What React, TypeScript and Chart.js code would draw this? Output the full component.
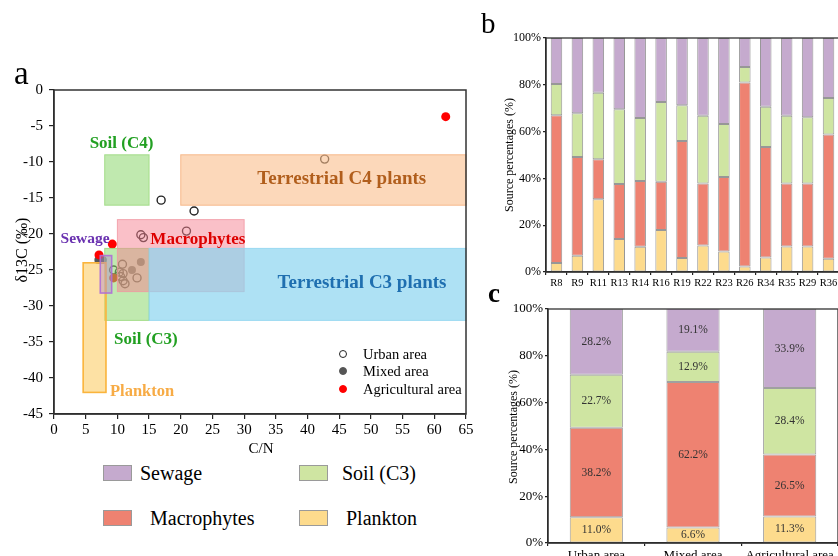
import React, { useEffect, useRef } from "react";
import { Chart, registerables } from "chart.js";
Chart.register(...registerables);

const FONT = '"Liberation Serif", "Times New Roman", Times, serif';
Chart.defaults.font.family = FONT;
Chart.defaults.color = "#000";

// ---------- Panel a data ----------
const urbanX = [16.9, 22.1, 42.7, 20.9, 13.7, 14.1, 9.4, 10.3, 10.8, 10.9, 10.5, 10.9, 11.2, 13.1];
const urbanY = [-15.3, -16.8, -9.6, -19.6, -20.1, -20.5, -25.0, -25.3, -24.2, -25.5, -25.9, -26.5, -26.9, -26.1];
const mixedX = [12.3, 13.7, 7.0, 7.7];
const mixedY = [-25.0, -23.9, -23.6, -23.6];
const agriX = [61.8, 9.2, 7.1, 9.4];
const agriY = [-3.7, -21.4, -22.9, -26.1];

const regionNames = ["Terrestrial C4 plants", "Soil (C4)", "Soil (C3)", "Macrophytes", "Terrestrial C3 plants", "Plankton", "Sewage"];
const regionX0 = [20, 8, 8, 10, 15, 4.6, 7.3];
const regionX1 = [65, 15, 15, 30, 65, 8.2, 9.1];
const regionY0 = [-9, -9, -22, -18, -22, -24, -23];
const regionY1 = [-16, -16, -32, -28, -32, -42, -28.2];
const labelX = [45.4, 10.65, 14.5, 22.7, 48.6, 13.9, 4.9];
const labelY = [-12.4, -7.4, -34.6, -20.8, -26.8, -41.9, -20.7];

const regionFill = [
  "rgba(250,190,140,0.6)",
  "rgba(140,215,110,0.55)",
  "rgba(140,215,110,0.55)",
  "rgba(245,130,145,0.5)",
  "rgba(140,212,240,0.7)",
  "rgba(252,200,90,0.55)",
  "rgba(180,140,205,0.45)",
];
const regionStroke = [
  "rgba(245,180,130,0.9)",
  "rgba(150,215,120,0.8)",
  "rgba(150,215,120,0.8)",
  "rgba(240,150,160,0.8)",
  "rgba(140,212,240,0.8)",
  "rgba(250,180,60,1)",
  "rgba(175,110,215,0.9)",
];
const regionStrokeW = [1, 1, 1, 1, 1, 1.6, 1.6];
const labelColor = ["#b15e1c", "#22a022", "#22a022", "#dd0000", "#1f6fb0", "#f7ab45", "#6a32b0"];
const labelSize = [19, 17, 17, 17, 19, 16.5, 15.5];

// ---------- Panel b data ----------
const siteLabels = ["R8", "R9", "R11", "R13", "R14", "R16", "R19", "R22", "R23", "R26", "R34", "R35", "R29", "R36"];
const sitePlankton = [3.8, 6.9, 31.1, 14.1, 10.8, 18.0, 6.0, 11.3, 8.8, 2.3, 6.2, 10.9, 10.9, 5.7];
const siteMacro = [63.2, 42.2, 17.1, 23.5, 28.1, 20.6, 50.0, 26.5, 31.8, 78.7, 47.2, 26.9, 26.9, 53.1];
const siteSoil = [13.3, 18.7, 28.4, 32.0, 26.9, 34.1, 15.3, 29.0, 22.7, 6.6, 17.2, 29.0, 28.3, 15.6];
const siteSewage = [19.7, 32.2, 23.4, 30.4, 34.2, 27.3, 28.7, 33.2, 36.7, 12.4, 29.4, 33.2, 33.9, 25.6];

// ---------- Panel c data ----------
const areaLabels = ["Urban area", "Mixed area", "Agricultural area"];
const areaPlankton = [11.0, 6.6, 11.3];
const areaMacro = [38.2, 62.2, 26.5];
const areaSoil = [22.7, 12.9, 28.4];
const areaSewage = [28.2, 19.1, 33.9];

const sourceNames = ["Plankton", "Macrophytes", "Soil (C3)", "Sewage"];
const sourceColors = ["#fddb8d", "#ee8271", "#cfe5a2", "#c5aace"];

const framePlugin = (lw: number, color: string) => ({
  id: "frame",
  afterDraw(chart: any) {
    const { ctx, chartArea } = chart;
    const { left, top, right, bottom } = chartArea;
    ctx.save();
    ctx.strokeStyle = color;
    ctx.lineWidth = lw;
    ctx.strokeRect(left, top, right - left, bottom - top);
    ctx.restore();
  },
});

const regionPlugin = {
  id: "regions",
  afterDatasetsDraw(chart: any) {
    const { ctx, scales } = chart;
    const xs = scales.x;
    const ys = scales.y;
    ctx.save();
    for (let i = 0; i < regionNames.length; i++) {
      const x0 = xs.getPixelForValue(regionX0[i]);
      const x1 = xs.getPixelForValue(regionX1[i]);
      const y0 = ys.getPixelForValue(regionY0[i]);
      const y1 = ys.getPixelForValue(regionY1[i]);
      ctx.fillStyle = regionFill[i];
      ctx.fillRect(x0, y0, x1 - x0, y1 - y0);
      ctx.strokeStyle = regionStroke[i];
      ctx.lineWidth = regionStrokeW[i];
      ctx.strokeRect(x0, y0, x1 - x0, y1 - y0);
    }
    ctx.textAlign = "center";
    ctx.textBaseline = "middle";
    for (let i = 0; i < regionNames.length; i++) {
      ctx.font = `bold ${labelSize[i]}px ${FONT}`;
      ctx.fillStyle = labelColor[i];
      ctx.fillText(regionNames[i], xs.getPixelForValue(labelX[i]), ys.getPixelForValue(labelY[i]));
    }
    ctx.restore();
  },
};

const valueLabelPlugin = {
  id: "valueLabels",
  afterDatasetsDraw(chart: any) {
    const { ctx } = chart;
    ctx.save();
    ctx.font = `11.5px ${FONT}`;
    ctx.fillStyle = "#333";
    ctx.textAlign = "center";
    ctx.textBaseline = "middle";
    chart.data.datasets.forEach((ds: any, i: number) => {
      const meta = chart.getDatasetMeta(i);
      meta.data.forEach((bar: any, j: number) => {
        const p = bar.getProps(["x", "y", "base"], true);
        const top = Math.max(p.y, chart.chartArea.top);
        ctx.fillText(ds.data[j].toFixed(1) + "%", p.x, (top + p.base) / 2);
      });
    });
    ctx.restore();
  },
};

function pts(xs: number[], ys: number[]) {
  return xs.map((x, i) => ({ x, y: ys[i] }));
}

function axisCommon(size: number, tickLen: number) {
  return {
    ticks: { font: { size, family: FONT }, color: "#000", padding: 3, maxRotation: 0, autoSkip: false },
    grid: { drawOnChartArea: false, drawTicks: true, tickLength: tickLen, color: "#222", lineWidth: 1.2 },
    border: { display: true, color: "#222", width: 1.4 },
  };
}

export default function App() {
  const aRef = useRef<HTMLCanvasElement>(null);
  const bRef = useRef<HTMLCanvasElement>(null);
  const cRef = useRef<HTMLCanvasElement>(null);

  useEffect(() => {
    const charts: Chart[] = [];
    // Panel a
    const ac = aRef.current!;
    const axA = axisCommon(15, 5);
    charts.push(
      new Chart(ac, {
        type: "scatter",
        data: {
          datasets: [
            { label: "Agricultural area", data: pts(agriX, agriY), pointRadius: 4.5, backgroundColor: "#ff0000", borderColor: "#ff0000", borderWidth: 0, order: 1 },
            { label: "Urban area", data: pts(urbanX, urbanY), pointRadius: 4, backgroundColor: "rgba(0,0,0,0)", borderColor: "#222", borderWidth: 1.4, order: 2 },
            { label: "Mixed area", data: pts(mixedX, mixedY), pointRadius: 4, backgroundColor: "#555", borderColor: "#555", borderWidth: 0, order: 3 },
          ],
        },
        options: {
          responsive: false,
          animation: false,
          events: [],
          layout: { padding: { top: 30, right: 14, left: 0, bottom: 0 } },
          plugins: { legend: { display: false }, tooltip: { enabled: false } },
          scales: {
            x: {
              type: "linear", min: 0, max: 65,
              ...axA,
              ticks: { ...axA.ticks, stepSize: 5, padding: 2 },
              afterFit: (s: any) => { s.height = 46; },
            },
            y: {
              type: "linear", min: -45, max: 0,
              ...axA,
              ticks: { ...axA.ticks, stepSize: 5, padding: 6 },
              afterFit: (s: any) => { s.width = 54; },
            },
          },
        } as any,
        plugins: [regionPlugin, framePlugin(1.5, "#333")],
      })
    );

    // Panel b
    const axB = axisCommon(12, 3);
    charts.push(
      new Chart(bRef.current!, {
        type: "bar",
        data: {
          labels: siteLabels,
          datasets: [sitePlankton, siteMacro, siteSoil, siteSewage].map((d, i) => ({
            label: sourceNames[i],
            data: d,
            backgroundColor: sourceColors[i],
            borderColor: "rgba(140,140,140,0.9)",
            borderWidth: 1,
            borderSkipped: false,
            barPercentage: 0.55,
            categoryPercentage: 1,
          })),
        },
        options: {
          responsive: false,
          animation: false,
          events: [],
          layout: { padding: { top: 38, right: 21, left: 0, bottom: 0 } },
          plugins: { legend: { display: false }, tooltip: { enabled: false } },
          scales: {
            x: {
              stacked: true,
              ...axB,
              ticks: { ...axB.ticks, font: { size: 10.5, family: FONT }, padding: 2 },
              afterFit: (s: any) => { s.height = 28; },
            },
            y: {
              stacked: true, min: 0, max: 100,
              ...axB,
              ticks: { ...axB.ticks, stepSize: 20, padding: 2, callback: (v: any) => v + "%" },
              afterFit: (s: any) => { s.width = 66; },
            },
          },
        } as any,
        plugins: [framePlugin(1.3, "#333")],
      })
    );

    // Panel c
    const axC = axisCommon(13, 3);
    charts.push(
      new Chart(cRef.current!, {
        type: "bar",
        data: {
          labels: areaLabels,
          datasets: [areaPlankton, areaMacro, areaSoil, areaSewage].map((d, i) => ({
            label: sourceNames[i],
            data: d,
            backgroundColor: sourceColors[i],
            borderColor: "rgba(150,150,150,0.9)",
            borderWidth: 1,
            borderSkipped: false,
            barPercentage: 0.55,
            categoryPercentage: 1,
          })),
        },
        options: {
          responsive: false,
          animation: false,
          events: [],
          layout: { padding: { top: 29, right: 22, left: 0, bottom: 0 } },
          plugins: { legend: { display: false }, tooltip: { enabled: false } },
          scales: {
            x: {
              stacked: true,
              ...axC,
              ticks: { ...axC.ticks, font: { size: 13, family: FONT }, padding: 2 },
              afterFit: (s: any) => { s.height = 27; },
            },
            y: {
              stacked: true, min: 0, max: 100,
              ...axC,
              ticks: { ...axC.ticks, stepSize: 20, padding: 2, callback: (v: any) => v + "%" },
              afterFit: (s: any) => { s.width = 68; },
            },
          },
        } as any,
        plugins: [valueLabelPlugin, framePlugin(1.3, "#333")],
      })
    );

    return () => charts.forEach((c) => c.destroy());
  }, []);

  const abs = (left: number, top: number, extra: React.CSSProperties = {}): React.CSSProperties => ({
    position: "absolute",
    left,
    top,
    whiteSpace: "nowrap",
    ...extra,
  });
  const rot = (cx: number, cy: number, size: number): React.CSSProperties => ({
    position: "absolute",
    left: cx,
    top: cy,
    fontSize: size,
    lineHeight: 1,
    whiteSpace: "nowrap",
    transform: "translate(-50%,-50%) rotate(-90deg)",
  });
  const swatch = (left: number, top: number, color: string) => (
    <div style={abs(left, top, { width: 27, height: 14, background: color, border: "1px solid #9a9a9a" })} />
  );
  const legendText = (left: number, cy: number, text: string) => (
    <div style={abs(left, cy - 11, { fontSize: 20, lineHeight: "22px" })}>{text}</div>
  );
  const marker = (cx: number, cy: number, fill: string, stroke: string) => (
    <div
      style={abs(cx - 4, cy - 4, {
        width: 8,
        height: 8,
        boxSizing: "border-box",
        borderRadius: "50%",
        background: fill,
        border: `1.4px solid ${stroke}`,
      })}
    />
  );
  const smallText = (left: number, cy: number, text: string) => (
    <div style={abs(left, cy - 8, { fontSize: 14.5, lineHeight: "16px" })}>{text}</div>
  );

  return (
    <div
      style={{
        position: "fixed",
        left: 0,
        top: 0,
        width: 838,
        height: 556,
        overflow: "hidden",
        background: "#fff",
        fontFamily: FONT,
        color: "#000",
      }}
    >
      <canvas ref={aRef} width={480} height={400} style={abs(0, 60)} />
      <canvas ref={bRef} width={380} height={300} style={abs(480, 0)} />
      <canvas ref={cRef} width={380} height={290} style={abs(480, 280)} />

      {/* panel labels */}
      <div style={abs(14, 57, { fontSize: 33, lineHeight: 1 })}>a</div>
      <div style={abs(481, 9, { fontSize: 29, lineHeight: 1 })}>b</div>
      <div style={abs(488, 280, { fontSize: 27, lineHeight: 1, fontWeight: "bold" })}>c</div>

      {/* axis titles */}
      <div style={rot(22, 250, 16)}>δ13C (‰)</div>
      <div style={abs(261, 448, { fontSize: 15, lineHeight: 1, transform: "translate(-50%,-50%)" })}>C/N</div>
      <div style={rot(509, 155, 12)}>Source percentages (%)</div>
      <div style={rot(513, 427, 12)}>Source percentages (%)</div>

      {/* panel a inner legend */}
      {marker(343, 354, "#fff", "#222")}
      {marker(343, 371, "#555", "#555")}
      {marker(343, 388.5, "#ff0000", "#ff0000")}
      {smallText(363, 354, "Urban area")}
      {smallText(363, 371, "Mixed area")}
      {smallText(363, 388.5, "Agricultural area")}

      {/* bottom legend */}
      {swatch(103, 465, sourceColors[3])}
      {legendText(140, 473, "Sewage")}
      {swatch(299, 465, sourceColors[2])}
      {legendText(342, 473, "Soil (C3)")}
      {swatch(103, 510, sourceColors[1])}
      {legendText(150, 518, "Macrophytes")}
      {swatch(299, 510, sourceColors[0])}
      {legendText(346, 518, "Plankton")}
    </div>
  );
}
